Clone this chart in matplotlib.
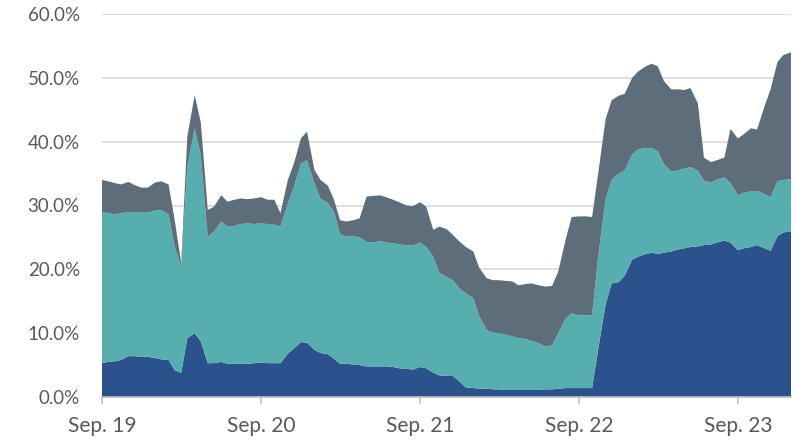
import matplotlib.pyplot as plt
import matplotlib.dates as mdates
import numpy as np
import pandas as pd
from matplotlib.ticker import FuncFormatter

# semi-monthly observations, Sep 2019 - Jan 2024
dates = pd.date_range('2019-09-01', '2024-01-01', freq='SMS')

# cumulative levels (%): top of each band
top_dark = [5.3, 5.5, 5.6, 5.8, 6.4, 6.4, 6.3, 6.3, 6.1, 5.9,
            5.8, 4.2, 3.8, 9.2, 10.0, 8.7, 5.3, 5.3, 5.5, 5.2,
            5.2, 5.2, 5.2, 5.3, 5.4, 5.3, 5.3, 5.3, 6.8, 7.6,
            8.6, 8.5, 7.4, 6.9, 6.7, 6.0, 5.2, 5.2, 5.1, 5.0,
            4.8, 4.8, 4.8, 4.8, 4.7, 4.5, 4.4, 4.3, 4.7, 4.5,
            3.8, 3.4, 3.3, 3.3, 2.4, 1.5, 1.4, 1.3, 1.3, 1.2,
            1.2, 1.1, 1.1, 1.1, 1.1, 1.1, 1.1, 1.2, 1.2, 1.3,
            1.4, 1.4, 1.4, 1.4, 1.4, 7.5, 14.5, 17.8, 18.0, 19.0,
            21.5, 22.0, 22.4, 22.6, 22.4, 22.6, 22.8, 23.1, 23.3, 23.5,
            23.6, 23.8, 23.9, 24.2, 24.5, 24.2, 23.0, 23.3, 23.5, 23.8,
            23.3, 22.9, 25.2, 25.8, 25.9]

top_teal = [29.0, 28.8, 28.6, 28.8, 29.0, 28.9, 28.9, 28.9, 29.2, 29.3,
            28.6, 23.5, 20.5, 36.1, 42.1, 37.8, 25.1, 25.9, 27.5, 26.7,
            26.8, 27.1, 27.2, 27.1, 27.2, 27.1, 27.0, 26.7, 30.3, 32.9,
            36.6, 37.1, 33.5, 31.1, 30.4, 29.0, 25.5, 25.2, 25.2, 25.0,
            24.3, 24.2, 24.4, 24.2, 24.1, 23.9, 23.8, 23.7, 24.2, 23.5,
            22.0, 19.4, 18.8, 18.3, 17.0, 16.2, 15.5, 12.6, 10.5, 10.1,
            10.0, 9.8, 9.5, 9.2, 9.1, 8.8, 8.4, 7.9, 8.1, 10.0,
            12.3, 13.1, 12.8, 12.8, 12.8, 22.0, 31.0, 34.0, 35.0, 35.5,
            38.0, 38.8, 39.0, 39.0, 38.5, 36.5, 35.3, 35.5, 35.8, 36.0,
            35.5, 33.9, 33.6, 34.1, 34.4, 33.5, 31.6, 32.0, 32.2, 32.3,
            31.8, 31.3, 33.8, 34.0, 34.1]

top_grey = [34.0, 33.8, 33.5, 33.3, 33.7, 33.2, 32.8, 32.8, 33.6, 33.8,
            33.3, 27.7, 21.0, 40.8, 47.3, 43.0, 29.3, 29.8, 31.6, 30.6,
            30.9, 31.1, 31.0, 31.1, 31.3, 30.9, 30.9, 28.8, 34.0, 36.6,
            40.5, 41.6, 35.6, 34.0, 33.1, 30.9, 27.7, 27.5, 27.7, 28.0,
            31.4, 31.5, 31.6, 31.3, 30.9, 30.5, 30.0, 29.9, 30.5, 29.8,
            26.2, 26.7, 26.3, 25.4, 24.3, 23.5, 22.8, 20.2, 18.6, 18.3,
            18.3, 18.2, 18.1, 17.5, 17.7, 17.8, 17.5, 17.3, 17.4, 19.6,
            24.6, 28.2, 28.3, 28.3, 28.2, 35.0, 43.5, 46.5, 47.2, 47.5,
            50.0, 51.0, 51.8, 52.2, 51.8, 49.5, 48.2, 48.2, 48.1, 48.4,
            46.0, 37.5, 36.8, 37.1, 37.5, 42.0, 40.5, 41.2, 42.1, 41.9,
            45.5, 48.2, 52.5, 53.6, 54.0]

levels = np.vstack([np.zeros(len(dates)), top_dark, top_teal, top_grey])
bands = np.diff(levels, axis=0)

colors = ['#2c528e', '#57aeaf', '#5d6d79']

plt.rcParams['font.family'] = ['Lato', 'DejaVu Sans']

fig = plt.figure(figsize=(7.94, 4.41), dpi=100)
ax = fig.add_axes([102 / 794, 44 / 441, 689 / 794, 383 / 441])

ax.stackplot(dates, bands, colors=colors, linewidth=0, zorder=2)

ax.set_ylim(0, 60)
ax.set_xlim(dates[0], dates[-1])
ax.set_yticks(np.arange(0, 61, 10))
ax.yaxis.set_major_formatter(FuncFormatter(lambda v, p: f'{v:.1f}%'))
ax.grid(axis='y', color='#d9d9d9', linewidth=1.2, zorder=0)

ticks = pd.to_datetime(['2019-09-01', '2020-09-01', '2021-09-01',
                        '2022-09-01', '2023-09-01'])
ax.set_xticks(ticks)
ax.xaxis.set_major_formatter(mdates.DateFormatter('Sep. %y'))

for s in ['top', 'right', 'left']:
    ax.spines[s].set_visible(False)
ax.spines['bottom'].set_color('#bfbfbf')
ax.spines['bottom'].set_linewidth(1.2)
ax.spines['bottom'].set_zorder(3)

ax.tick_params(axis='y', length=0, pad=16, labelsize=13.5, labelcolor='#595959')
ax.tick_params(axis='x', length=5, width=1.2, color='#bfbfbf', pad=9,
               labelsize=15, labelcolor='#595959')

fig.savefig('out.png', dpi=100)
